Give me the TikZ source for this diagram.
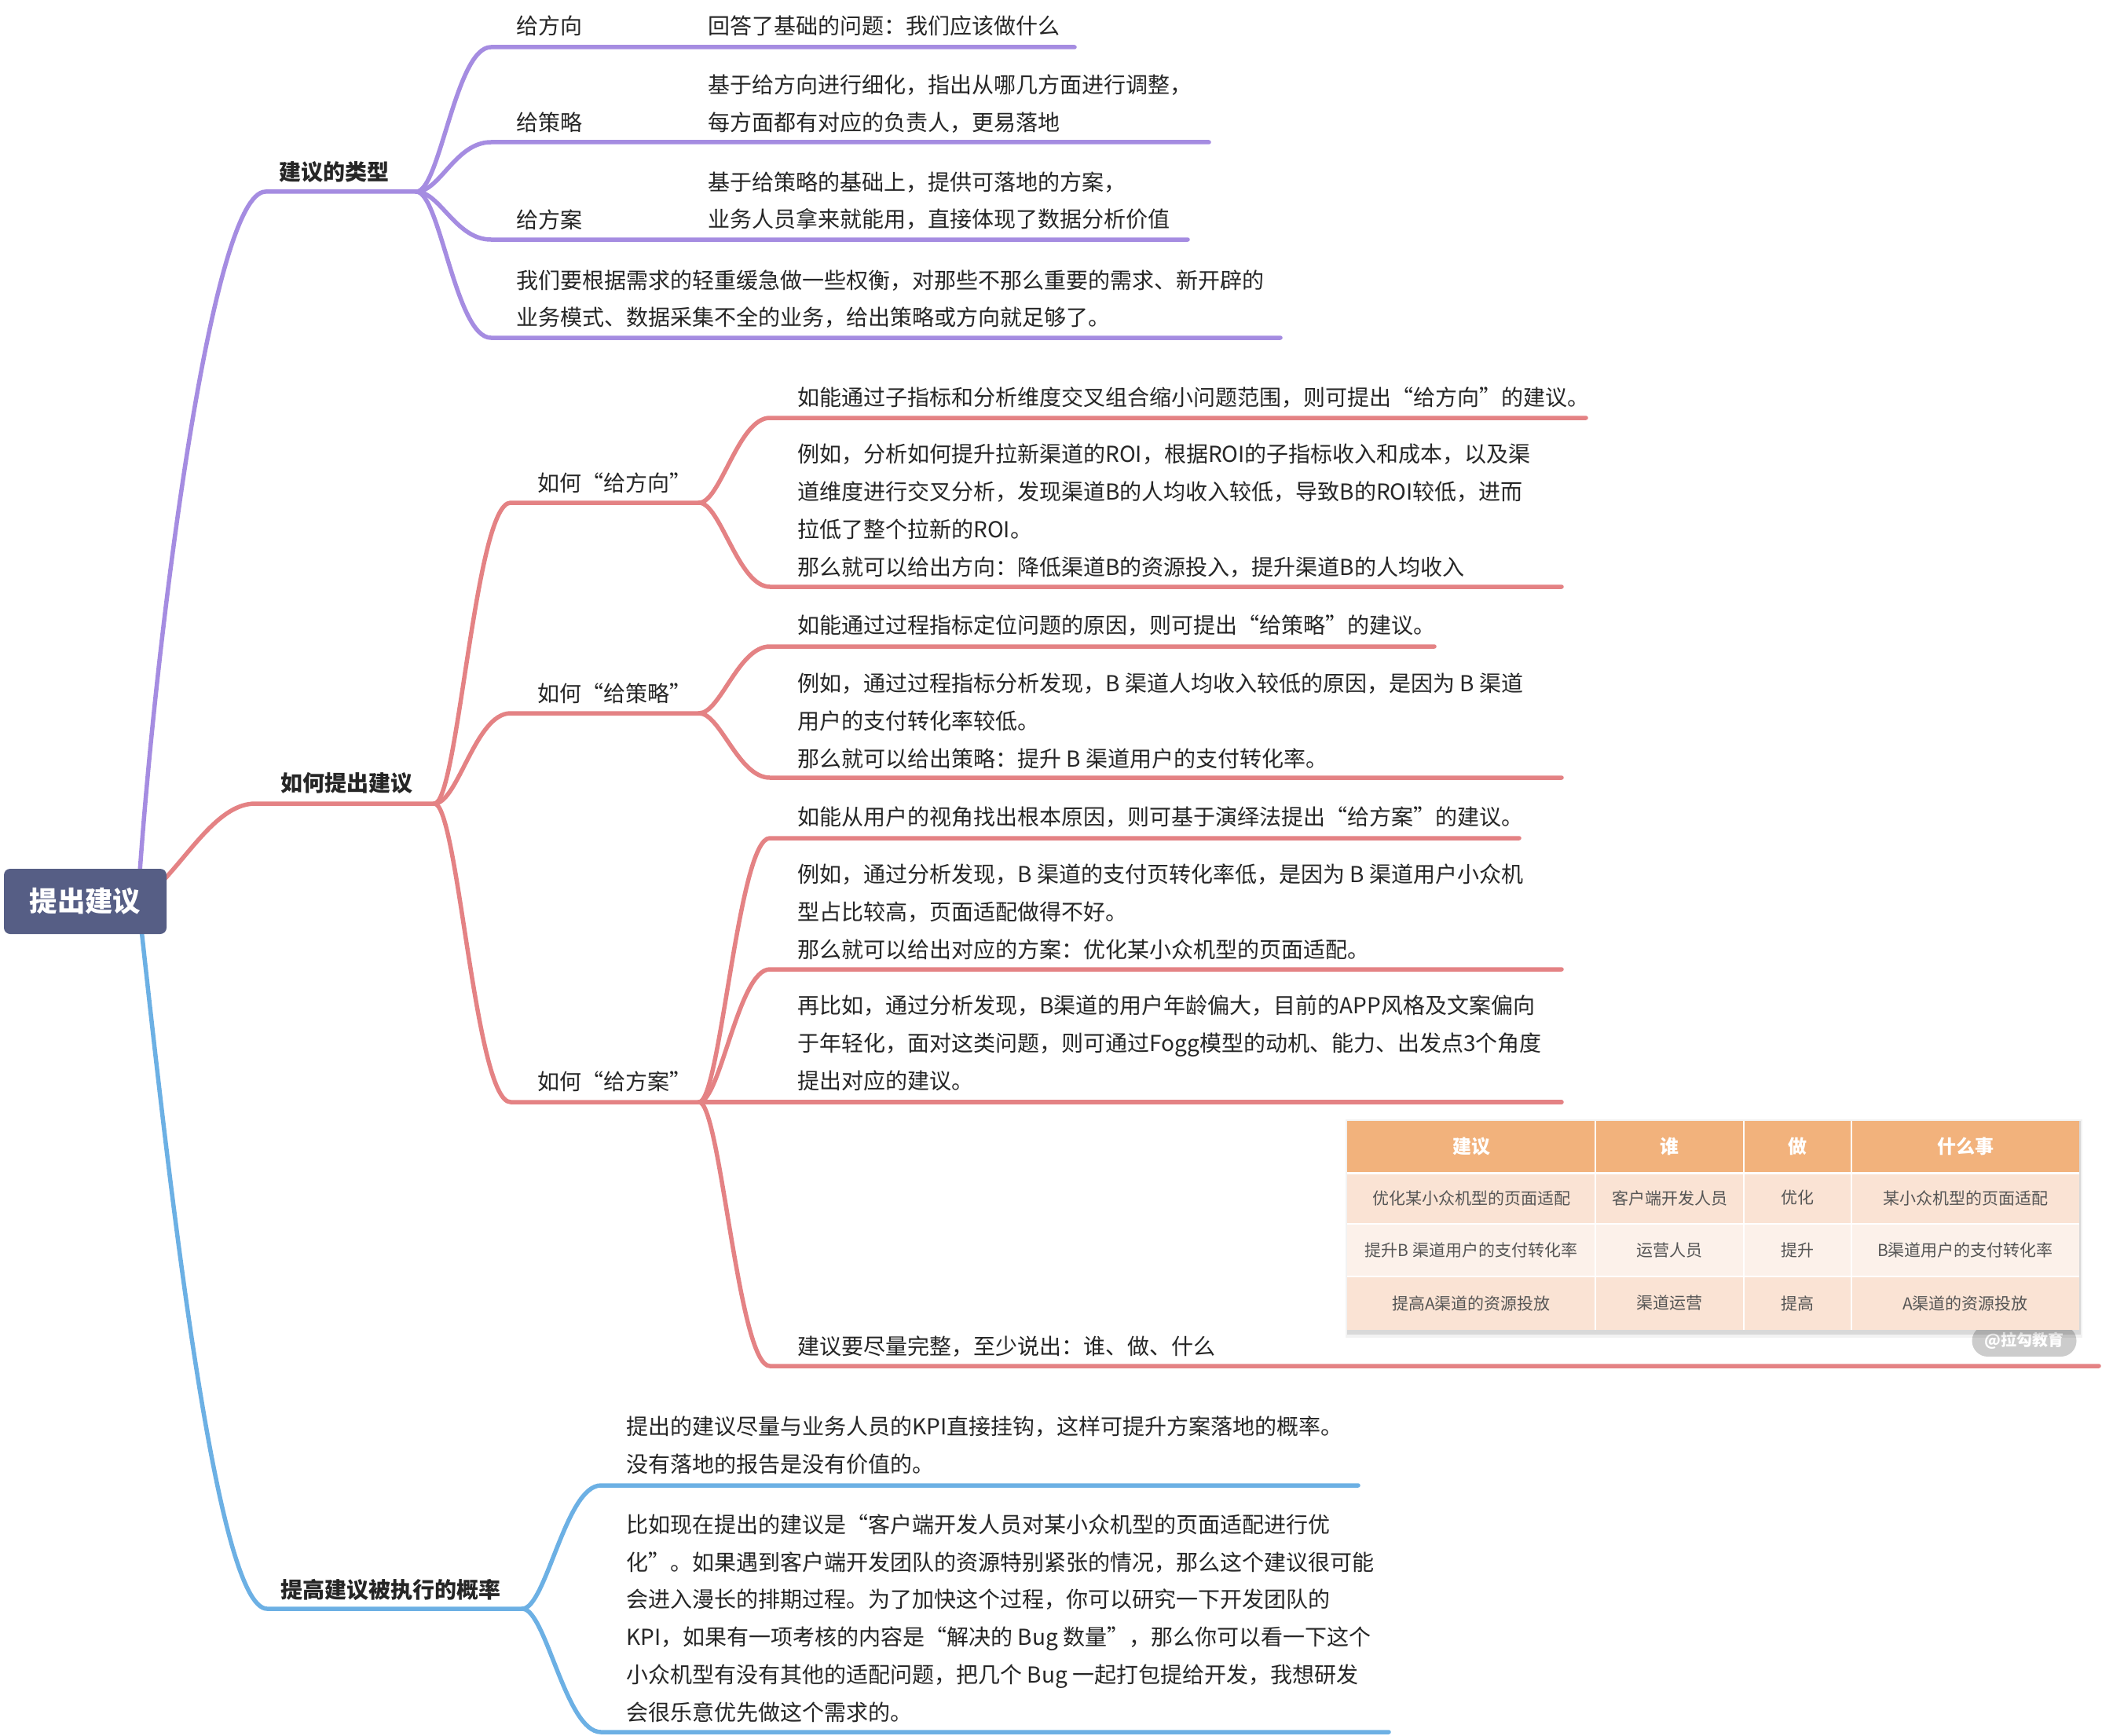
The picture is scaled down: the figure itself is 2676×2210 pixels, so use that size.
\documentclass[tikz,border=0pt]{standalone}
\usepackage{fontspec}
\setmainfont{Noto Sans CJK SC}
\definecolor{cpur}{HTML}{A58CE1}
\definecolor{cred}{HTML}{E48284}
\definecolor{cblu}{HTML}{6CB0E4}
\definecolor{croot}{HTML}{565E85}
\definecolor{thead}{HTML}{F2B27C}
\definecolor{trowa}{HTML}{FAE3D4}
\definecolor{trowb}{HTML}{FCF1EA}
\definecolor{ttext}{HTML}{555555}
\definecolor{ctext}{HTML}{262626}
\begin{document}
\begin{tikzpicture}[x=0.5pt,y=-0.5pt,
  br/.style={line width=2.75pt,line cap=round,line join=round},
  pur/.style={br,draw=cpur},
  redb/.style={br,draw=cred},
  blub/.style={br,draw=cblu},
  txt/.style={inner sep=0pt,anchor=west,align=left,text=ctext,yshift=-0.8pt,font=\fontsize{14}{23.9}\selectfont},
  lbl/.style={inner sep=0pt,anchor=west,align=left,text=ctext,yshift=-0.8pt,font=\fontsize{14}{23.9}\selectfont\bfseries},
  rootbox/.style={fill=croot,rounded corners=4pt,minimum width=103.5pt,minimum height=41.5pt,inner sep=0pt,text=white,font=\fontsize{17.7}{20}\selectfont\bfseries},
  tcell/.style={inner sep=0pt,text=ttext,font=\fontsize{10.5}{12}\selectfont},
  thd/.style={inner sep=0pt,text=white,font=\fontsize{12}{14}\selectfont\bfseries},
  wmark/.style={fill=black!20,rounded corners=10pt,minimum width=66.5pt,minimum height=20pt,inner sep=0pt,text=white,font=\fontsize{10}{11}\selectfont\bfseries}
]
\useasboundingbox (0,0) rectangle (2676,2210);

% ---------- coordinates ----------
\coordinate (rootP) at (178,1110);
\coordinate (rootR) at (205,1124);
\coordinate (rootB) at (180,1183);
% purple
\coordinate (pS) at (338,244);  \coordinate (pJ) at (530,244);
\coordinate (pAs) at (625,60);  \coordinate (pAe) at (1368,60);
\coordinate (pBs) at (625,181); \coordinate (pBe) at (1539,181);
\coordinate (pCs) at (625,305); \coordinate (pCe) at (1512,305);
\coordinate (pDs) at (625,430); \coordinate (pDe) at (1630,430);
% red
\coordinate (rS) at (325,1023); \coordinate (rJ) at (553,1023);
\coordinate (r1s) at (650,640);  \coordinate (r1J) at (890,640);
\coordinate (r2s) at (650,908);  \coordinate (r2J) at (890,908);
\coordinate (r3s) at (650,1403); \coordinate (r3J) at (890,1403);
\coordinate (ra1s) at (980,532);  \coordinate (ra1e) at (2019,532);
\coordinate (ra2s) at (980,747);  \coordinate (ra2e) at (1988,747);
\coordinate (rb1s) at (980,823);  \coordinate (rb1e) at (1826,823);
\coordinate (rb2s) at (980,990);  \coordinate (rb2e) at (1988,990);
\coordinate (rc1s) at (980,1067); \coordinate (rc1e) at (1934,1067);
\coordinate (rc2s) at (980,1234); \coordinate (rc2e) at (1988,1234);
\coordinate (rc3e) at (1988,1403);
\coordinate (rc4s) at (980,1739); \coordinate (rc4e) at (2672,1739);
% blue
\coordinate (bS) at (340,2048); \coordinate (bJ) at (665,2048);
\coordinate (bas) at (765,1891); \coordinate (bae) at (1729,1891);
\coordinate (bbs) at (765,2205); \coordinate (bbe) at (1768,2205);

% ---------- branches ----------
\draw[pur] (rootP) .. controls (200,800) and (270,244) .. (pS) -- (pJ);
\draw[pur] (pJ) .. controls +(30,0) and +(-45,0) .. (pAs) -- (pAe);
\draw[pur] (pJ) .. controls +(30,0) and +(-45,0) .. (pBs) -- (pBe);
\draw[pur] (pJ) .. controls +(30,0) and +(-45,0) .. (pCs) -- (pCe);
\draw[pur] (pJ) .. controls +(30,0) and +(-45,0) .. (pDs) -- (pDe);

\draw[redb] (rootR) .. controls (245,1082) and (280,1023) .. (rS) -- (rJ);
\draw[redb] (rJ) .. controls +(30,0) and +(-45,0) .. (r1s) -- (r1J);
\draw[redb] (rJ) .. controls +(30,0) and +(-45,0) .. (r2s) -- (r2J);
\draw[redb] (rJ) .. controls +(30,0) and +(-45,0) .. (r3s) -- (r3J);
\draw[redb] (r1J) .. controls +(27,0) and +(-40,0) .. (ra1s) -- (ra1e);
\draw[redb] (r1J) .. controls +(27,0) and +(-40,0) .. (ra2s) -- (ra2e);
\draw[redb] (r2J) .. controls +(27,0) and +(-40,0) .. (rb1s) -- (rb1e);
\draw[redb] (r2J) .. controls +(27,0) and +(-40,0) .. (rb2s) -- (rb2e);
\draw[redb] (r3J) .. controls +(27,0) and +(-40,0) .. (rc1s) -- (rc1e);
\draw[redb] (r3J) .. controls +(27,0) and +(-40,0) .. (rc2s) -- (rc2e);
\draw[redb] (r3J) -- (rc3e);
\draw[redb] (r3J) .. controls +(27,0) and +(-40,0) .. (rc4s) -- (rc4e);

\draw[blub] (rootB) .. controls (215,1500) and (275,2048) .. (bS) -- (bJ);
\draw[blub] (bJ) .. controls +(30,0) and +(-45,0) .. (bas) -- (bae);
\draw[blub] (bJ) .. controls +(30,0) and +(-45,0) .. (bbs) -- (bbe);

% ---------- root ----------
\node[rootbox] (root) at (108.5,1147.5) {提出建议};

% ---------- purple texts ----------
\node[lbl] (p1) at (355,217) {建议的类型};
\node[txt] (pA) at (657,31) {给方向};
\node[txt] (pAd) at (901,31) {回答了基础的问题：我们应该做什么};
\node[txt] (pB) at (657,154) {给策略};
\node[txt] (pBd) at (901,130.5) {基于给方向进行细化，指出从哪几方面进行调整，\\每方面都有对应的负责人，更易落地};
\node[txt] (pC) at (657,278) {给方案};
\node[txt] (pCd) at (901,254) {基于给策略的基础上，提供可落地的方案，\\业务人员拿来就能用，直接体现了数据分析价值};
\node[txt] (pD) at (657,379) {我们要根据需求的轻重缓急做一些权衡，对那些不那么重要的需求、新开辟的\\业务模式、数据采集不全的业务，给出策略或方向就足够了。};

% ---------- red texts ----------
\node[lbl] (r0) at (357,995) {如何提出建议};
\node[txt] (r1) at (684,613) {如何“给方向”};
\node[txt] (r2) at (684,881) {如何“给策略”};
\node[txt] (r3) at (684,1375) {如何“给方案”};
\node[txt] (ra1) at (1015,505) {如能通过子指标和分析维度交叉组合缩小问题范围，则可提出“给方向”的建议。};
\node[txt] (ra2) at (1015,648.5) {例如，分析如何提升拉新渠道的ROI，根据ROI的子指标收入和成本，以及渠\\道维度进行交叉分析，发现渠道B的人均收入较低，导致B的ROI较低，进而\\拉低了整个拉新的ROI。\\那么就可以给出方向：降低渠道B的资源投入，提升渠道B的人均收入};
\node[txt] (rb1) at (1015,795) {如能通过过程指标定位问题的原因，则可提出“给策略”的建议。};
\node[txt] (rb2) at (1015,916) {例如，通过过程指标分析发现，B 渠道人均收入较低的原因，是因为 B 渠道\\用户的支付转化率较低。\\那么就可以给出策略：提升 B 渠道用户的支付转化率。};
\node[txt] (rc1) at (1015,1039) {如能从用户的视角找出根本原因，则可基于演绎法提出“给方案”的建议。};
\node[txt] (rc2) at (1015,1159) {例如，通过分析发现，B 渠道的支付页转化率低，是因为 B 渠道用户小众机\\型占比较高，页面适配做得不好。\\那么就可以给出对应的方案：优化某小众机型的页面适配。};
\node[txt] (rc3) at (1015,1326) {再比如，通过分析发现，B渠道的用户年龄偏大，目前的APP风格及文案偏向\\于年轻化，面对这类问题，则可通过Fogg模型的动机、能力、出发点3个角度\\提出对应的建议。};
\node[txt] (rc4) at (1015,1712) {建议要尽量完整，至少说出：谁、做、什么};

% ---------- table ----------
\node[wmark] (wm) at (2577,1707) {@拉勾教育};
\fill[black,opacity=0.05] (1713,1425) rectangle (2651,1703);
\fill[black,opacity=0.10] (1715,1427) rectangle (2649,1699);
\fill[thead] (1715,1427) rectangle (2647,1492);
\fill[trowa] (1715,1492) rectangle (2647,1558);
\fill[trowb] (1715,1558) rectangle (2647,1625);
\fill[trowa] (1715,1625) rectangle (2647,1693);
\draw[white,line width=1.5pt] (1715,1493) -- (2647,1493);
\draw[white,line width=0.6pt] (1715,1558) -- (2647,1558) (1715,1625) -- (2647,1625);
\draw[white,line width=1pt] (2031,1427) -- (2031,1693) (2220,1427) -- (2220,1693) (2357,1427) -- (2357,1693);
\node[thd] (h1) at (1873,1459.5) {建议};
\node[thd] (h2) at (2125.5,1459.5) {谁};
\node[thd] (h3) at (2288.5,1459.5) {做};
\node[thd] (h4) at (2502,1459.5) {什么事};
\node[tcell] (a1) at (1873,1525) {优化某小众机型的页面适配};
\node[tcell] (a2) at (2125.5,1525) {客户端开发人员};
\node[tcell] (a3) at (2288.5,1525) {优化};
\node[tcell] (a4) at (2502,1525) {某小众机型的页面适配};
\node[tcell] (b1) at (1873,1591.5) {提升B 渠道用户的支付转化率};
\node[tcell] (b2) at (2125.5,1591.5) {运营人员};
\node[tcell] (b3) at (2288.5,1591.5) {提升};
\node[tcell] (b4) at (2502,1591.5) {B渠道用户的支付转化率};
\node[tcell] (c1) at (1873,1659) {提高A渠道的资源投放};
\node[tcell] (c2) at (2125.5,1659) {渠道运营};
\node[tcell] (c3) at (2288.5,1659) {提高};
\node[tcell] (c4) at (2502,1659) {A渠道的资源投放};

% ---------- blue texts ----------
\node[lbl] (b0) at (357,2022) {提高建议被执行的概率};
\node[txt] (ba) at (797,1838) {提出的建议尽量与业务人员的KPI直接挂钩，这样可提升方案落地的概率。\\没有落地的报告是没有价值的。};
\node[txt] (bb) at (797,2058.5) {比如现在提出的建议是“客户端开发人员对某小众机型的页面适配进行优\\化”。如果遇到客户端开发团队的资源特别紧张的情况，那么这个建议很可能\\会进入漫长的排期过程。为了加快这个过程，你可以研究一下开发团队的\\KPI，如果有一项考核的内容是“解决的 Bug 数量”，那么你可以看一下这个\\小众机型有没有其他的适配问题，把几个 Bug 一起打包提给开发，我想研发\\会很乐意优先做这个需求的。};
\end{tikzpicture}
\end{document}
